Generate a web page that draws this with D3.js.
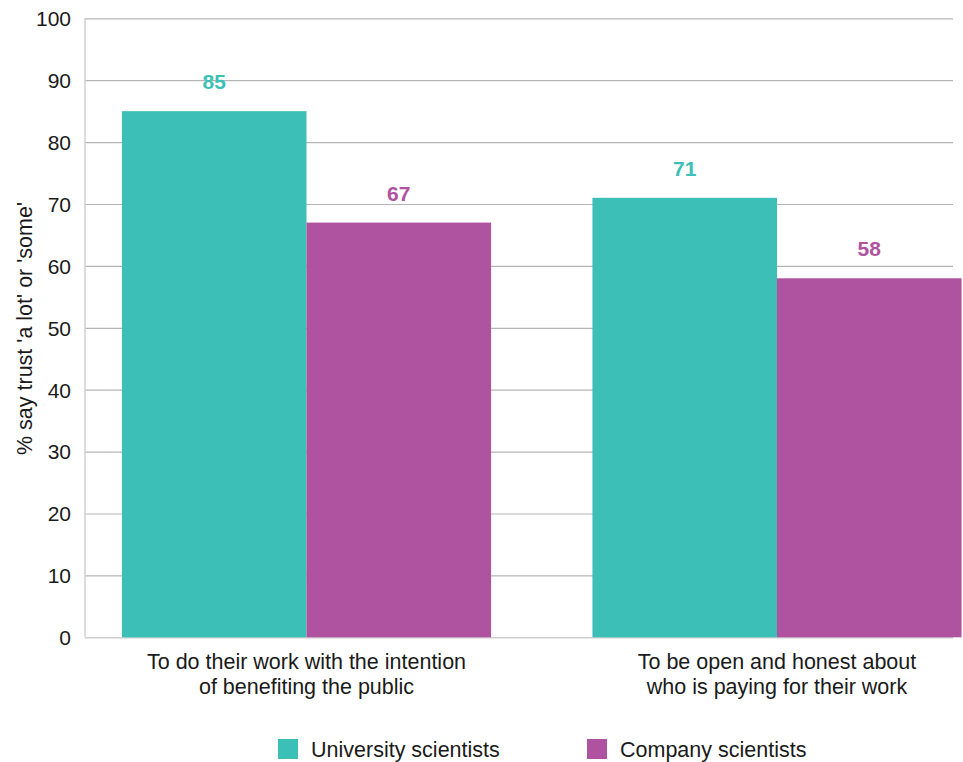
<!DOCTYPE html>
<html>
<head>
<meta charset="utf-8">
<script src="https://cdn.jsdelivr.net/npm/d3@7/dist/d3.min.js"></script>
<style>
  html, body { margin: 0; padding: 0; background: #fff; }
  svg { display: block; font-family: "Liberation Sans", Arial, Helvetica, sans-serif; }
</style>
</head>
<body>
<svg id="chart" width="963" height="762"></svg>
<script>
// Share trusting scientists 'a lot' or 'some', by statement
const categories = [
  ["To do their work with the intention", "of benefiting the public"],
  ["To be open and honest about", "who is paying for their work"]
];
const seriesNames = ["University scientists", "Company scientists"];
const seriesColors = ["#3cbfb6", "#af529f"];
const universityValues = [85, 71];
const companyValues = [67, 58];
const yTicks = [0, 10, 20, 30, 40, 50, 60, 70, 80, 90, 100];
const yTitle = "% say trust 'a lot' or 'some'";

const series = [universityValues, companyValues];
const svg = d3.select("#chart");

const plotLeft = 85, gridRight = 953, plotTop = 18.3, plotBottom = 637.3;

const y = d3.scaleLinear().domain([0, 100]).range([plotBottom, plotTop]);

const x = d3.scaleBand()
  .domain(d3.range(categories.length))
  .range([71.25, 1012.25])
  .paddingInner(0.2155)
  .paddingOuter(0.1078);

const xs = d3.scaleBand()
  .domain(d3.range(series.length))
  .range([0, x.bandwidth()]);

// Horizontal gridlines
const yAxis = d3.axisLeft(y)
  .tickValues(yTicks)
  .tickSize(-(gridRight - plotLeft))
  .tickPadding(14)
  .tickFormat(d3.format("d"));

const gy = svg.append("g")
  .attr("transform", `translate(${plotLeft},0)`)
  .call(yAxis);
gy.select(".domain").remove();
gy.selectAll(".tick line")
  .attr("stroke", d => d === 0 ? "#cfcfcf" : "#b5b5b5")
  .attr("stroke-width", d => d === 0 ? 1.5 : 1.2);
gy.selectAll(".tick text")
  .attr("fill", "#1a1a1a")
  .style("font-size", "21px")
  .attr("dy", "0.35em");

// Left axis line
svg.append("line")
  .attr("x1", plotLeft).attr("x2", plotLeft)
  .attr("y1", y(100)).attr("y2", y(0))
  .attr("stroke", "#cfcfcf")
  .attr("stroke-width", 1.5);

// Bars
const groups = svg.append("g").selectAll("g")
  .data(categories)
  .join("g")
  .attr("transform", (d, i) => `translate(${x(i)},0)`);

groups.selectAll("rect")
  .data((d, i) => series.map((s, k) => ({ k, v: s[i] })))
  .join("rect")
  .attr("x", d => xs(d.k))
  .attr("width", xs.bandwidth())
  .attr("y", d => y(d.v))
  .attr("height", d => y(0) - y(d.v))
  .attr("fill", d => seriesColors[d.k]);

groups.selectAll("text.value")
  .data((d, i) => series.map((s, k) => ({ k, v: s[i] })))
  .join("text")
  .attr("class", "value")
  .attr("x", d => xs(d.k) + xs.bandwidth() / 2)
  .attr("y", d => y(d.v) - 22)
  .attr("text-anchor", "middle")
  .attr("fill", d => seriesColors[d.k])
  .style("font-size", "21px")
  .style("font-weight", "bold")
  .text(d => d.v);

// Category labels
groups.append("text")
  .attr("x", x.bandwidth() / 2)
  .attr("text-anchor", "middle")
  .attr("fill", "#1a1a1a")
  .style("font-size", "21.5px")
  .selectAll("tspan")
  .data(d => d)
  .join("tspan")
  .attr("x", x.bandwidth() / 2)
  .attr("y", (d, i) => 669 + i * 25)
  .text(d => d);

// Y axis title
svg.append("text")
  .attr("transform", `translate(32,328.5) rotate(-90)`)
  .attr("text-anchor", "middle")
  .attr("fill", "#1a1a1a")
  .style("font-size", "21.5px")
  .text(yTitle);

// Legend
const legendX = [278, 587];
const legend = svg.append("g").selectAll("g")
  .data(seriesNames)
  .join("g")
  .attr("transform", (d, i) => `translate(${legendX[i]},739)`);
legend.append("rect")
  .attr("width", 20).attr("height", 20)
  .attr("fill", (d, i) => seriesColors[i]);
legend.append("text")
  .attr("x", 33).attr("y", 17.5)
  .attr("fill", "#1a1a1a")
  .style("font-size", "21.5px")
  .text(d => d);
</script>
</body>
</html>
